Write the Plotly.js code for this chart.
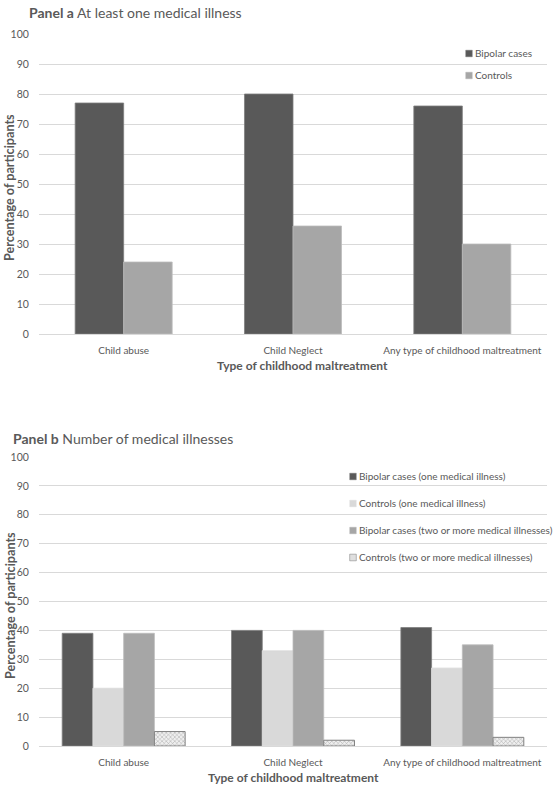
<!DOCTYPE html>
<html>
<head>
<meta charset="utf-8">
<script src="https://cdn.plot.ly/plotly-3.0.1.min.js"></script>
<style>html,body{margin:0;padding:0;background:#fff;}#chart{width:553px;height:787px;}</style>
</head>
<body>
<div id="chart"></div>
<script>
// ---- data ----
const categories = ["Child abuse", "Child Neglect", "Any type of childhood maltreatment"];

// Panel a: at least one medical illness (%)
const panelA_bipolar = [77, 80, 76];
const panelA_controls = [24, 36, 30];

// Panel b: number of medical illnesses (%)
const panelB_bipolarOne = [39, 40, 41];
const panelB_controlsOne = [20, 33, 27];
const panelB_bipolarTwoPlus = [39, 40, 35];
const panelB_controlsTwoPlus = [5, 2, 3];

const yTicks = [0, 10, 20, 30, 40, 50, 60, 70, 80, 90, 100];

// ---- style ----
const FONT = "Lato, 'Open Sans', sans-serif";
const TXT = "#595959";
const DARK = "#595959";
const MID = "#a6a6a6";
const LIGHT = "#d9d9d9";
const GRID = "#d9d9d9";

const traces = [
  {type: "bar", name: "Bipolar cases", x: categories, y: panelA_bipolar, xaxis: "x", yaxis: "y",
   marker: {color: DARK, line: {color: "#7f7f7f", width: 0.8}}, legend: "legend", legendgroup: "a1", hoverinfo: "y"},
  {type: "bar", name: "Controls", x: categories, y: panelA_controls, xaxis: "x", yaxis: "y",
   marker: {color: MID, line: {color: "#bdbdbd", width: 0.8}}, legend: "legend", legendgroup: "a2", hoverinfo: "y"},

  {type: "bar", name: "Bipolar cases (one medical illness)", x: categories, y: panelB_bipolarOne, xaxis: "x2", yaxis: "y2",
   marker: {color: DARK, line: {color: "#7f7f7f", width: 0.8}}, legend: "legend2", legendgroup: "b1", hoverinfo: "y"},
  {type: "bar", name: "Controls (one medical illness)", x: categories, y: panelB_controlsOne, xaxis: "x2", yaxis: "y2",
   marker: {color: LIGHT, line: {color: "#e0e0e0", width: 0.8}}, legend: "legend2", legendgroup: "b2", hoverinfo: "y"},
  {type: "bar", name: "Bipolar cases (two or more medical illnesses)", x: categories, y: panelB_bipolarTwoPlus, xaxis: "x2", yaxis: "y2",
   marker: {color: MID, line: {color: "#bdbdbd", width: 0.8}}, legend: "legend2", legendgroup: "b3", hoverinfo: "y"},
  {type: "bar", name: "Controls (two or more medical illnesses)", x: categories, y: panelB_controlsTwoPlus, xaxis: "x2", yaxis: "y2",
   marker: {color: "#ececec", line: {color: "#808080", width: 1},
            pattern: {shape: "x", size: 3, solidity: 0.3, fgcolor: "#a8a8a8", bgcolor: "#efefef"}},
   legend: "legend2", legendgroup: "b4", hoverinfo: "y"}
];

const xBase = {
  type: "category", range: [-0.5, 2.5], showgrid: false, zeroline: false, showline: false,
  ticks: "outside", ticklen: 7, tickcolor: "rgba(0,0,0,0)",
  tickfont: {family: FONT, size: 10, color: TXT}, fixedrange: true
};
const yBase = {
  range: [0, 100], tickvals: yTicks, showgrid: true, gridcolor: GRID, gridwidth: 1,
  zeroline: true, zerolinecolor: GRID, zerolinewidth: 1, showline: false,
  ticks: "outside", ticklen: 7, tickcolor: "rgba(0,0,0,0)",
  tickfont: {family: FONT, size: 10.5, color: TXT}, fixedrange: true
};

const ML = 39, MR = 6, W = 553, H = 787;
const PW = W - ML - MR;
const px = p => (p - ML) / PW;   // pixel x -> paper x
const py = p => 1 - p / H;        // pixel y -> paper y

const legendFont = {family: FONT, size: 10, color: TXT};

const layout = {
  width: W, height: H,
  margin: {l: ML, r: MR, t: 0, b: 0, autoexpand: false},
  paper_bgcolor: "#fff", plot_bgcolor: "#fff",
  font: {family: FONT, color: TXT},
  barmode: "group",
  bargap: 0.427,
  bargroupgap: 0,
  xaxis: Object.assign({}, xBase, {anchor: "y"}),
  yaxis: Object.assign({}, yBase, {domain: [py(334), py(34)], anchor: "x"}),
  xaxis2: Object.assign({}, xBase, {anchor: "y2"}),
  yaxis2: Object.assign({}, yBase, {domain: [py(746), py(457)], anchor: "x2"}),
  legend: {x: px(435), y: py(39), xanchor: "left", yanchor: "top", bgcolor: "rgba(0,0,0,0)",
           font: legendFont, tracegroupgap: 3, traceorder: "grouped"},
  legend2: {x: px(319), y: py(462), xanchor: "left", yanchor: "top", bgcolor: "rgba(0,0,0,0)",
            font: legendFont, tracegroupgap: 8, traceorder: "grouped"},
  annotations: [
    {text: "<b>Panel a</b> At least one medical illness", xref: "paper", yref: "paper",
     x: px(27), y: py(12), xanchor: "left", yanchor: "middle", showarrow: false,
     font: {family: FONT, size: 14, color: TXT}},
    {text: "<b>Panel b</b> Number of medical illnesses", xref: "paper", yref: "paper",
     x: px(11), y: py(438), xanchor: "left", yanchor: "middle", showarrow: false,
     font: {family: FONT, size: 14, color: TXT}},
    {text: "<b>Type of childhood maltreatment</b>", xref: "paper", yref: "paper",
     x: px(302), y: py(366), xanchor: "center", yanchor: "middle", showarrow: false,
     font: {family: FONT, size: 12, color: TXT}},
    {text: "<b>Type of childhood maltreatment</b>", xref: "paper", yref: "paper",
     x: px(293), y: py(777), xanchor: "center", yanchor: "middle", showarrow: false,
     font: {family: FONT, size: 12, color: TXT}},
    {text: "<b>Percentage of participants</b>", xref: "paper", yref: "paper", textangle: -90,
     x: px(10), y: py(188), xanchor: "center", yanchor: "middle", showarrow: false,
     font: {family: FONT, size: 12.6, color: TXT}},
    {text: "<b>Percentage of participants</b>", xref: "paper", yref: "paper", textangle: -90,
     x: px(10), y: py(606), xanchor: "center", yanchor: "middle", showarrow: false,
     font: {family: FONT, size: 12.6, color: TXT}}
  ]
};

// bar widths/offsets within each category (fraction of category width)
const bW = (1 - 0.274) / 4;
traces.slice(2).forEach((t, i) => { t.width = bW; t.offset = -2 * bW + i * bW; });
const aW = (1 - 0.427) / 2;
traces.slice(0, 2).forEach((t, i) => { t.width = aW; t.offset = -aW + i * aW; });

Plotly.newPlot("chart", traces, layout, {displayModeBar: false, staticPlot: true}).then(() => {
  // make legend swatches small and close to their labels, like the original
  document.querySelectorAll("#chart g.legendpoints").forEach(g => {
    const prev = g.getAttribute("transform") || "";
    g.setAttribute("transform", prev + " translate(23,0) scale(0.55)");
  });
});
</script>
</body>
</html>
